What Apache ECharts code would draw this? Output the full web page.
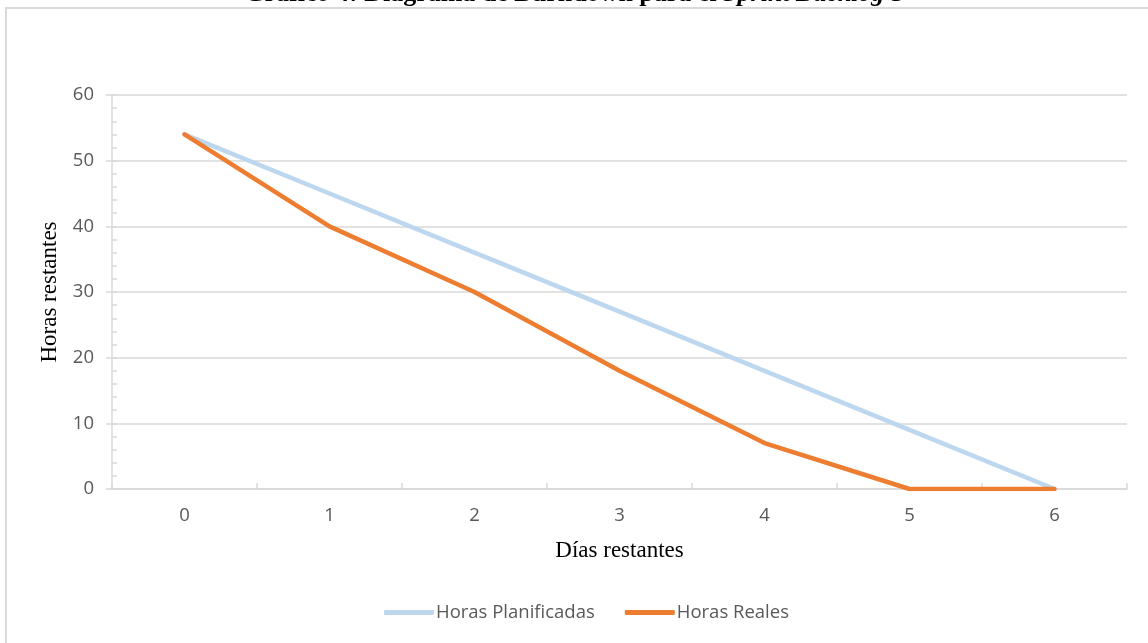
<!DOCTYPE html>
<html>
<head>
<meta charset="utf-8">
<script src="https://cdn.jsdelivr.net/npm/echarts@6/dist/echarts.min.js"></script>
<style>
html,body{margin:0;padding:0;background:#fff;}
#chart{width:1148px;height:643px;}
</style>
</head>
<body>
<div id="chart"></div>
<script>
var categories = ['0', '1', '2', '3', '4', '5', '6'];
var planificadas = [54, 45, 36, 27, 18, 9, 0];
var reales = [54, 40, 30, 18, 7, 0, 0];
var seriesNames = ['Horas Planificadas', 'Horas Reales'];
var xName = 'Días restantes';
var yName = 'Horas restantes';

var chart = echarts.init(document.getElementById('chart'), null, {renderer: 'canvas'});
var labelFont = 'Open Sans';
var grey = '#d9d9d9';
var option = {
  animation: false,
  backgroundColor: '#fff',
  graphic: [
    {type: 'rect', shape: {x: 6, y: 8, width: 1300, height: 800}, style: {fill: 'none', stroke: grey, lineWidth: 2}, silent: true},
    {type: 'text', left: 'center', top: -19, style: {
      text: '{b|Gráfico 4: Diagrama de Burndown para el }{i|Sprint Backlog}{b| 3}',
      rich: {
        b: {fontFamily: 'Liberation Serif', fontWeight: 'bold', fontSize: 26, fill: '#000'},
        i: {fontFamily: 'Liberation Serif', fontWeight: 'bold', fontStyle: 'italic', fontSize: 26, fill: '#000'}
      }
    }}
  ],
  grid: {left: 112, right: 21, top: 95, bottom: 154},
  legend: {
    bottom: 16,
    left: 379,
    itemWidth: 50,
    itemHeight: 5,
    itemGap: 30,
    icon: 'roundRect',
    data: seriesNames,
    textStyle: {fontFamily: labelFont, fontSize: 18.5, color: '#595959', padding: [0, 0, 0, -3]}
  },
  xAxis: {
    type: 'category',
    data: categories,
    boundaryGap: true,
    name: xName,
    nameLocation: 'middle',
    nameGap: 50,
    nameTextStyle: {fontFamily: 'Liberation Serif', fontSize: 23, color: '#000'},
    axisLine: {lineStyle: {color: grey, width: 1.5}},
    axisTick: {show: true, inside: true, length: 6, lineStyle: {color: grey, width: 1.5}},
    axisLabel: {fontFamily: labelFont, fontSize: 18.5, color: '#595959', margin: 17}
  },
  yAxis: [{
    type: 'value',
    min: 0, max: 60, interval: 10,
    name: yName,
    nameLocation: 'middle',
    nameGap: 50,
    nameTextStyle: {fontFamily: 'Liberation Serif', fontSize: 23, color: '#000'},
    axisLine: {show: true, lineStyle: {color: grey, width: 1.5}},
    axisTick: {show: true, length: 6, lineStyle: {color: grey, width: 1.5}},
    splitLine: {show: true, lineStyle: {color: grey, width: 1.5}},
    axisLabel: {fontFamily: labelFont, fontSize: 18.5, color: '#595959', margin: 18}
  }, {
    type: 'value',
    position: 'left',
    min: 0, max: 60, interval: 10,
    axisLine: {show: false},
    axisLabel: {show: false},
    splitLine: {show: false},
    axisTick: {show: true, inside: true, length: 5, lineStyle: {color: grey, width: 1.5}},
    minorTick: {show: true, splitNumber: 5, length: 5, lineStyle: {color: grey, width: 1.5}}
  }],
  series: [{
    name: seriesNames[0],
    type: 'line',
    data: planificadas,
    symbol: 'none',
    color: '#BDD7EE',
    lineStyle: {color: '#BDD7EE', width: 4.5, cap: 'round', join: 'round'}
  }, {
    name: seriesNames[1],
    type: 'line',
    data: reales,
    symbol: 'none',
    color: '#ED7D31',
    lineStyle: {color: '#ED7D31', width: 4.5, cap: 'round', join: 'round'}
  }]
};
chart.setOption(option);
</script>
</body>
</html>
